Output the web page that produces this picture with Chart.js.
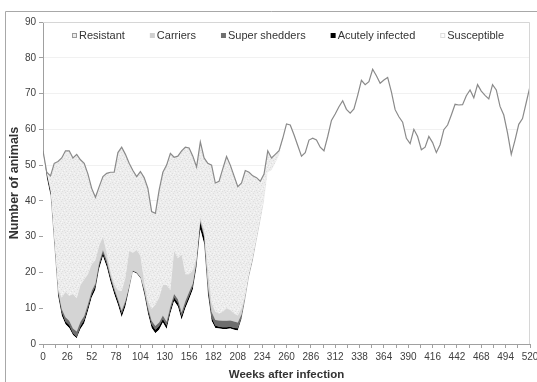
<!DOCTYPE html>
<html>
<head>
<meta charset="utf-8">
<title>Infection dynamics</title>
<script src="https://cdn.jsdelivr.net/npm/chart.js@4.4.1/dist/chart.umd.min.js"></script>
<style>
  html, body { margin: 0; padding: 0; background: #fff; }
</style>
</head>
<body>
<canvas id="herdChart" width="537" height="382"></canvas>
<script>
// Weeks after infection (sampled every 4 weeks)
const weeks = [
    0, 4, 8, 12, 16, 20, 24, 28, 32, 36, 40, 44, 48,
    52, 56, 60, 64, 68, 72, 76, 80, 84, 88, 92, 96, 100,
    104, 108, 112, 116, 120, 124, 128, 132, 136, 140, 144, 148, 152,
    156, 160, 164, 168, 172, 176, 180, 184, 188, 192, 196, 200, 204,
    208, 212, 216, 220, 224, 228, 232, 236, 240, 244, 248, 252, 256,
    260, 264, 268, 272, 276, 280, 284, 288, 292, 296, 300, 304, 308,
    312, 316, 320, 324, 328, 332, 336, 340, 344, 348, 352, 356, 360,
    364, 368, 372, 376, 380, 384, 388, 392, 396, 400, 404, 408, 412,
    416, 420, 424, 428, 432, 436, 440, 444, 448, 452, 456, 460, 464,
    468, 472, 476, 480, 484, 488, 492, 496, 500, 504, 508, 512, 516,
    520
];

// Number of animals per group (stacked bottom to top)
const susceptible = [
    54, 46.5, 41.5, 27.5, 13.5, 8, 5.5, 4.5, 2.5, 1.6, 4.2, 5.8, 9.2,
    13, 15.2, 21, 24.5, 21.6, 17.5, 14, 11, 7.5, 10.5, 15.2, 20.2, 19.7,
    18.4, 14, 8.5, 4.5, 3, 4, 6, 4.2, 8.5, 12, 10.5, 6.8, 10,
    12.5, 15.2, 21.5, 32, 28, 14, 6.5, 4.5, 4.3, 4.2, 4.2, 4.3, 4,
    3.8, 7, 12.5, 18.8, 23.3, 28.8, 34.3, 39.9, 48, 48.5, 50.5, 52.5, 57,
    61.5, 61.2, 58.5, 55.5, 52.5, 53.5, 57, 57.5, 57, 55, 54, 58, 62.5,
    64.3, 66.3, 68, 65.6, 64.5, 65.7, 69.5, 73.7, 72.5, 73.3, 76.8, 75, 72.9,
    73.8, 74.5, 70.5, 65.5, 63.5, 62, 57.5, 56, 60, 58, 54.3, 55, 58,
    56.3, 53.5, 55.7, 59.9, 61.2, 64, 67, 66.8, 66.9, 69.4, 71, 68.8, 72.5,
    70.7, 69.5, 68.5, 72.5, 71, 66.4, 64, 59, 53, 57, 61.4, 63, 67.5,
    72
];
const acutelyInfected = [
    0, 1, 1, 1, 1, 1, 0.8, 0.8, 0.6, 0.4, 0.8, 1, 1,
    1, 1, 1, 1, 1, 1, 1, 1, 1, 1, 0.5, 0.2, 0.2,
    0.2, 0.8, 1, 1, 1, 1, 1, 1, 1, 1, 1, 1, 1,
    1, 1, 1.2, 2, 2, 1.5, 1, 0.7, 0.5, 0.5, 0.5, 0.5, 0.5,
    0.6, 0.5, 0.3, 0.2, 0.2, 0.1, 0.1, 0, 0, 0, 0, 0, 0,
    0, 0, 0, 0, 0, 0, 0, 0, 0, 0, 0, 0, 0,
    0, 0, 0, 0, 0, 0, 0, 0, 0, 0, 0, 0, 0,
    0, 0, 0, 0, 0, 0, 0, 0, 0, 0, 0, 0, 0,
    0, 0, 0, 0, 0, 0, 0, 0, 0, 0, 0, 0, 0,
    0, 0, 0, 0, 0, 0, 0, 0, 0, 0, 0, 0, 0,
    0
];
const superShedders = [
    0, 0.3, 0.4, 0.5, 0.5, 0.8, 1.2, 1.2, 1.2, 1.5, 1.2, 1, 1,
    0.8, 0.8, 0.8, 0.8, 0.8, 0.6, 0.6, 0.6, 0.8, 0.6, 0.3, 0.1, 0.1,
    0.1, 0.5, 0.8, 1, 1, 1, 1, 1, 1, 1, 1, 1, 1,
    1, 0.8, 0.5, 0.5, 0.5, 1, 1.5, 1.5, 1.8, 1.8, 1.8, 1.8, 1.8,
    1.6, 0.8, 0.3, 0.2, 0.2, 0.1, 0.1, 0, 0, 0, 0, 0, 0,
    0, 0, 0, 0, 0, 0, 0, 0, 0, 0, 0, 0, 0,
    0, 0, 0, 0, 0, 0, 0, 0, 0, 0, 0, 0, 0,
    0, 0, 0, 0, 0, 0, 0, 0, 0, 0, 0, 0, 0,
    0, 0, 0, 0, 0, 0, 0, 0, 0, 0, 0, 0, 0,
    0, 0, 0, 0, 0, 0, 0, 0, 0, 0, 0, 0, 0,
    0
];
const carriers = [
    0, 0, 0, 0.5, 0.5, 3.2, 7, 7, 9.7, 9.3, 10.3, 10.2, 8.3,
    7.5, 6.5, 4.7, 3.7, 2, 1.4, 1.2, 2.4, 5.5, 6.4, 10, 5, 6.3,
    6, 2.2, 1.7, 3.3, 6, 7, 8.5, 10.3, 4.5, 12, 11.5, 16.2, 7.5,
    5, 3.5, 1.3, 1, 1.5, 4.5, 2.5, 2.3, 1.9, 2.5, 3.5, 2.9, 2.2,
    2, 1.7, 0.9, 0.6, 0.6, 0.5, 0.5, 0.6, 0, 0, 0, 0, 0,
    0, 0, 0, 0, 0, 0, 0, 0, 0, 0, 0, 0, 0,
    0, 0, 0, 0, 0, 0, 0, 0, 0, 0, 0, 0, 0,
    0, 0, 0, 0, 0, 0, 0, 0, 0, 0, 0, 0, 0,
    0, 0, 0, 0, 0, 0, 0, 0, 0, 0, 0, 0, 0,
    0, 0, 0, 0, 0, 0, 0, 0, 0, 0, 0, 0, 0,
    0
];
const resistant = [
    0, 0.2, 4.1, 21, 35.5, 39, 39.5, 40.5, 38, 40.2, 35, 32.5, 28,
    21.2, 17.5, 16.5, 16.8, 22.3, 27.5, 31.2, 38.5, 40.2, 34.5, 24.5, 23, 20.5,
    23.5, 29, 31.5, 27.2, 25.5, 30, 31.5, 33.5, 38.3, 26.2, 28.5, 29, 35.5,
    35.3, 32, 25, 21, 20, 29.5, 38.5, 36, 37, 40, 42.4, 40.5, 38.5,
    36, 35, 34.5, 28.2, 22.7, 17, 10.5, 7, 6, 3.5, 2.5, 1.5, 0.5,
    0, 0, 0, 0, 0, 0, 0, 0, 0, 0, 0, 0, 0,
    0, 0, 0, 0, 0, 0, 0, 0, 0, 0, 0, 0, 0,
    0, 0, 0, 0, 0, 0, 0, 0, 0, 0, 0, 0, 0,
    0, 0, 0, 0, 0, 0, 0, 0, 0, 0, 0, 0, 0,
    0, 0, 0, 0, 0, 0, 0, 0, 0, 0, 0, 0, 0,
    0
];

const FONT = '"Liberation Sans", Arial, sans-serif';
const TEXT = '#333333';

// Light speckled fill like the original "Resistant" area
function speckle() {
    const c = document.createElement('canvas');
    c.width = 8;
    c.height = 8;
    const g = c.getContext('2d');
    g.fillStyle = '#ededed';
    g.fillRect(0, 0, 8, 8);
    g.fillStyle = '#dedede';
    [[1, 0], [5, 1], [7, 3], [2, 3], [4, 5], [0, 6], [6, 7], [3, 7]].forEach(p => g.fillRect(p[0], p[1], 1, 1));
    g.fillStyle = '#f7f7f7';
    [[3, 0], [0, 2], [6, 4], [2, 5], [5, 6]].forEach(p => g.fillRect(p[0], p[1], 1, 1));
    return g.createPattern(c, 'repeat');
}

// Legend drawn inside the plot area, Excel style
const legendItems = [
    { label: 'Resistant', fill: '#ececec', stroke: '#9a9a9a' },
    { label: 'Carriers', fill: '#d0d0d0' },
    { label: 'Super shedders', fill: '#707070' },
    { label: 'Acutely infected', fill: '#000000' },
    { label: 'Susceptible', fill: '#ffffff', stroke: '#dddddd' }
];

const insideLegend = {
    id: 'insideLegend',
    afterDraw(chart) {
        const ctx = chart.ctx;
        const area = chart.chartArea;
        const gap = 25;
        ctx.save();
        ctx.font = '11px ' + FONT;
        ctx.textBaseline = 'middle';
        let total = 0;
        const widths = legendItems.map(it => 7 + ctx.measureText(it.label).width);
        widths.forEach(w => total += w);
        total += gap * (legendItems.length - 1);
        let x = Math.round((area.left + area.right) / 2 + 2 - total / 2);
        const y = area.top + 14;
        legendItems.forEach((it, i) => {
            ctx.fillStyle = it.fill;
            ctx.fillRect(x, y - 3, 5, 5);
            if (it.stroke) {
                ctx.strokeStyle = it.stroke;
                ctx.lineWidth = 1;
                ctx.strokeRect(x + 0.5, y - 2.5, 4, 4);
            }
            ctx.fillStyle = TEXT;
            ctx.fillText(it.label, x + 7, y);
            x += widths[i] + gap;
        });
        ctx.restore();
    }
};

// Outer chart frame and plot area border
const frames = {
    id: 'frames',
    beforeDraw(chart) {
        const ctx = chart.ctx;
        ctx.save();
        ctx.fillStyle = '#ffffff';
        ctx.fillRect(0, 0, chart.width, chart.height);
        ctx.strokeStyle = '#a8a8a8';
        ctx.lineWidth = 1;
        ctx.beginPath();
        ctx.moveTo(5.5, chart.height);
        ctx.lineTo(5.5, 11.5);
        ctx.lineTo(chart.width, 11.5);
        ctx.stroke();
        ctx.restore();
    },
    afterDatasetsDraw(chart) {
        const ctx = chart.ctx;
        const a = chart.chartArea;
        ctx.save();
        ctx.lineWidth = 1;
        ctx.strokeStyle = '#d6d6d6';
        ctx.beginPath();
        ctx.moveTo(a.left, a.top + 0.5);
        ctx.lineTo(a.right - 0.5, a.top + 0.5);
        ctx.lineTo(a.right - 0.5, a.bottom);
        ctx.stroke();
        ctx.restore();
    }
};

const ctx = document.getElementById('herdChart').getContext('2d');

new Chart(ctx, {
    type: 'line',
    data: {
        labels: weeks,
        datasets: [
            { label: 'Susceptible', data: susceptible, backgroundColor: '#ffffff', borderWidth: 0, fill: 'origin' },
            { label: 'Acutely infected', data: acutelyInfected, backgroundColor: '#000000', borderWidth: 0, fill: '-1' },
            { label: 'Super shedders', data: superShedders, backgroundColor: '#6e6e6e', borderWidth: 0, fill: '-1' },
            { label: 'Carriers', data: carriers, backgroundColor: '#d4d4d4', borderWidth: 0, fill: '-1' },
            { label: 'Resistant', data: resistant, backgroundColor: speckle(), borderColor: '#8a8a8a', borderWidth: 1.2, fill: '-1' }
        ]
    },
    options: {
        responsive: false,
        animation: false,
        layout: { padding: { top: 22, right: 7, left: 0, bottom: 0 } },
        elements: {
            point: { radius: 0, hoverRadius: 0 },
            line: { tension: 0 }
        },
        plugins: {
            legend: { display: false },
            tooltip: { enabled: false },
            filler: { drawTime: 'beforeDatasetsDraw' }
        },
        scales: {
            x: {
                type: 'linear',
                min: 0,
                max: 520,
                afterFit: s => { s.height = 38; s.paddingLeft = 0; s.paddingRight = 7; },
                afterBuildTicks: s => {
                    s.ticks = [];
                    for (let v = 0; v <= 520; v += 13) s.ticks.push({ value: v });
                },
                ticks: {
                    autoSkip: false,
                    maxRotation: 0,
                    padding: 3,
                    color: '#404040',
                    font: { family: FONT, size: 10 },
                    callback: v => (v % 26 === 0 ? String(v) : '')
                },
                grid: { drawOnChartArea: false, tickLength: 4, tickColor: '#a0a0a0' },
                border: { color: '#a0a0a0' },
                title: {
                    display: true,
                    text: 'Weeks after infection',
                    color: TEXT,
                    font: { family: FONT, size: 11.5, weight: 'bold' },
                    padding: { top: 0, bottom: 0 }
                }
            },
            y: {
                stacked: true,
                min: 0,
                max: 90,
                afterFit: s => { s.width = 43; },
                ticks: {
                    stepSize: 10,
                    padding: 3,
                    color: '#404040',
                    font: { family: FONT, size: 10 }
                },
                grid: { color: '#f1f1f1', tickLength: 4, tickColor: '#a0a0a0' },
                border: { color: '#a0a0a0' },
                title: {
                    display: true,
                    text: 'Number of animals',
                    color: TEXT,
                    font: { family: FONT, size: 12.5, weight: 'bold' },
                    padding: { top: 7, bottom: 0 }
                }
            }
        }
    },
    plugins: [frames, insideLegend]
});
</script>
</body>
</html>
